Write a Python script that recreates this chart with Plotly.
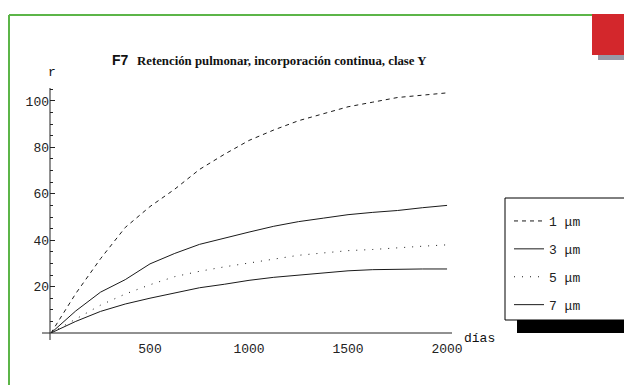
import plotly.graph_objects as go

# Days since start of continuous intake
dias = [0, 125, 250, 375, 500, 625, 750, 875, 1000, 1125, 1250, 1375, 1500, 1625, 1750, 1875, 2000]

# Lung retention r for each particle size (AMAD)
r_1um = [0, 17, 32, 45.5, 54.5, 62, 70.5, 77, 83, 87.5, 91.5, 94.5, 97.5, 99.5, 101.5, 102.5, 103.5]
r_3um = [0, 9.5, 17.6, 23, 29.8, 34.3, 38.2, 41, 43.5, 46, 48, 49.5, 51, 52, 52.8, 54, 55]
r_5um = [0, 6, 12, 16.8, 20.8, 24.3, 26.6, 28.5, 30.2, 32, 33.5, 34.5, 35.5, 36, 36.8, 37.4, 38]
r_7um = [0, 5, 9.3, 12.5, 15, 17.2, 19.5, 21, 22.7, 24, 25, 26, 26.8, 27.3, 27.6, 27.6, 27.6]

series = [
    ("1 μm", r_1um, "4px,4px"),
    ("3 μm", r_3um, "solid"),
    ("5 μm", r_5um, "1px,7px"),
    ("7 μm", r_7um, "solid"),
]

x_ticks = [500, 1000, 1500, 2000]
y_ticks = [20, 40, 60, 80, 100]

W, H = 624, 385
# plot area in pixels
L, R, T, B = 50, 452, 88, 333


def px(x):
    return (x - L) / (R - L)


def py(y):
    return (B - y) / (B - T)


mono = "Liberation Mono"
fig = go.Figure()
for i, (name, vals, dash) in enumerate(series):
    fig.add_trace(go.Scatter(
        x=dias, y=vals, mode="lines", name=name, legendgroup=str(i),
        line=dict(color="#1a1a1a", width=1, dash=dash),
    ))

shapes = [
    # green frame
    dict(type="line", xref="paper", yref="paper", x0=px(9), x1=px(626), y0=py(15), y1=py(15),
         line=dict(color="#5cb548", width=2)),
    dict(type="line", xref="paper", yref="paper", x0=px(9), x1=px(9), y0=py(15), y1=py(390),
         line=dict(color="#5cb548", width=2)),
    # corner accent
    dict(type="rect", xref="paper", yref="paper", x0=px(592), x1=px(626), y0=py(14), y1=py(55),
         fillcolor="#d3272c", line=dict(width=0)),
    dict(type="rect", xref="paper", yref="paper", x0=px(598), x1=px(626), y0=py(55), y1=py(60),
         fillcolor="#9999a6", line=dict(width=0)),
    # axes
    dict(type="line", xref="paper", yref="paper", x0=px(42), x1=px(452), y0=py(333), y1=py(333),
         line=dict(color="#222", width=1)),
    dict(type="line", xref="paper", yref="paper", x0=px(50), x1=px(50), y0=py(88), y1=py(340),
         line=dict(color="#222", width=1)),
    # legend box and shadow
    dict(type="rect", xref="paper", yref="paper", x0=px(517), x1=px(630), y0=py(320), y1=py(333),
         fillcolor="black", line=dict(width=0)),
    dict(type="rect", xref="paper", yref="paper", x0=px(505), x1=px(630), y0=py(198), y1=py(320),
         fillcolor="white", line=dict(color="black", width=1)),
]


def note(text, x, y, xa, ya, family, size):
    return dict(text=text, x=px(x), y=py(y), xref="paper", yref="paper",
                xanchor=xa, yanchor=ya, showarrow=False,
                font=dict(family=family, size=size, color="#111"))


annotations = [
    note("<b>F7</b>", 131, 60, "right", "middle", "Liberation Sans", 14),
    note("<b>Retención pulmonar, incorporación continua, clase Y</b>", 135, 61,
         "left", "middle", "Liberation Serif", 12.8),
    note("r", 52, 73, "center", "middle", mono, 13),
    note("días", 462, 338, "left", "middle", mono, 13),
]

fig.update_layout(
    width=W, height=H,
    margin=dict(l=L, r=W - R, t=T, b=H - B),
    paper_bgcolor="white", plot_bgcolor="white",
    shapes=shapes, annotations=annotations,
    showlegend=True,
    legend=dict(x=px(509), y=py(206), xanchor="left", yanchor="top",
                bgcolor="rgba(0,0,0,0)", borderwidth=0,
                tracegroupgap=8, traceorder="grouped",
                font=dict(family=mono, size=13, color="#222")),
    xaxis=dict(range=[-5, 2025], showgrid=False, zeroline=False, showline=False,
               tickvals=x_ticks, ticks="", ticklabelstandoff=6,
               tickfont=dict(family=mono, size=13, color="#222")),
    yaxis=dict(range=[0, 105.6], showgrid=False, zeroline=False, showline=False,
               tickvals=y_ticks, ticks="inside", ticklen=5, tickcolor="#222",
               minor=dict(dtick=5, ticks="inside", ticklen=3, tickcolor="#222"),
               ticklabelstandoff=0,
               tickfont=dict(family=mono, size=13, color="#222")),
)

fig.write_html("out.html")
